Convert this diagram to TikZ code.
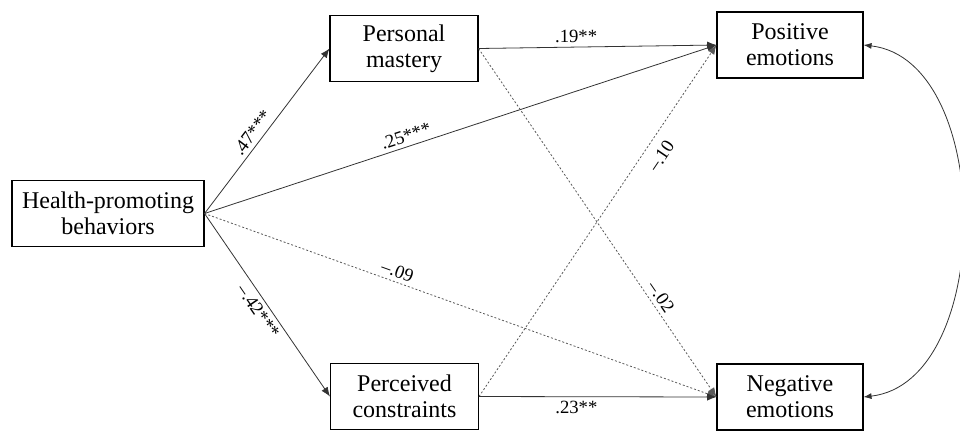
\documentclass[tikz,border=0pt]{standalone}
\usepackage{fontspec}
\setmainfont{Liberation Serif}
\usetikzlibrary{arrows.meta}
\begin{document}
\begin{tikzpicture}[x=0.75pt,y=-0.75pt,
  box/.style={draw, line width=0.8pt, align=center, inner sep=0pt,
    font=\fontsize{18}{19.5}\selectfont},
  wide/.style={minimum width=144pt, minimum height=50pt},
  mid/.style={minimum width=111pt, minimum height=50pt},
  conn/.style={line width=0.6pt, draw=black!80, -{Latex[length=7pt,width=5.5pt]}},
  ns/.style={conn, draw=black!65, dash pattern=on 1.5pt off 1.5pt},
  lbl/.style={font=\fontsize{14}{15}\selectfont, inner sep=3pt}]
\useasboundingbox (0,0) rectangle (960,430);
\node[box, wide] (hpb) at (108,213.5) {Health-promoting\\behaviors};
\node[box, mid] (pm) at (404,48.5) {Personal\\mastery};
\node[box, mid] (pc) at (404.5,396.5) {Perceived\\constraints};
\node[box, minimum width=109.5pt, minimum height=49.5pt] (pe) at (790,45) {Positive\\emotions};
\node[box, minimum width=109.5pt, minimum height=49.5pt] (ne) at (790,397) {Negative\\emotions};

\draw[conn] (hpb.east) -- (pm.west) node[lbl, pos=0.45, above, sloped] {.47***};
\draw[conn] (hpb.east) -- (pe.west) node[lbl, pos=0.4, above, sloped] {.25***};
\draw[ns] (hpb.east) -- (ne.west) node[lbl, pos=0.37, above, sloped] {--.09};
\draw[conn] (hpb.east) -- (pc.west) node[lbl, midway, below, sloped] {--.42***};
\draw[conn] (pm.east) -- (pe.west) node[lbl, pos=0.41, above] {.19**};
\draw[ns] (pm.east) -- (ne.west) node[lbl, pos=0.73, above, sloped] {--.02};
\draw[ns] (pc.east) -- (pe.west) node[lbl, pos=0.71, below=4pt, sloped] {--.10};
\draw[conn] (pc.east) -- (ne.west) node[lbl, pos=0.41, below] {.23**};
\draw[line width=0.6pt, draw=black!80, {Latex[length=6pt,width=4.5pt]}-{Latex[length=6pt,width=4.5pt]}]
  (pe.east) .. controls (995,60) and (995,382) .. (ne.east);
\end{tikzpicture}
\end{document}
